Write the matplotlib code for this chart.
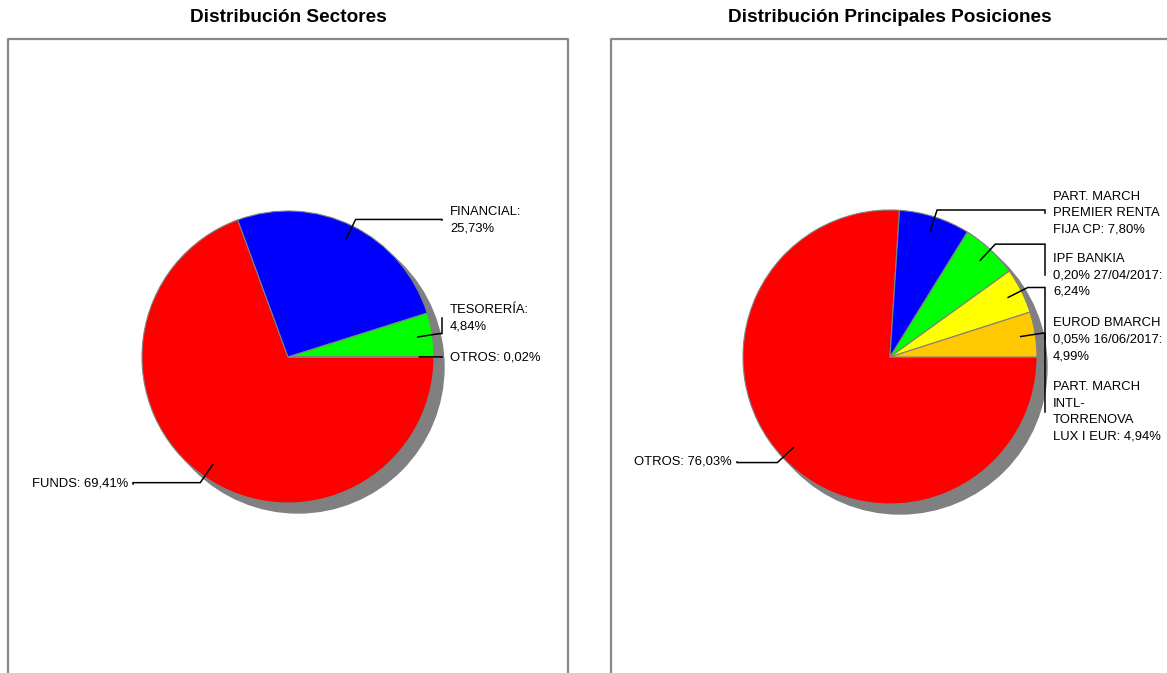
import matplotlib
matplotlib.use("Agg")
import matplotlib.pyplot as plt
import numpy as np
from matplotlib.patches import Circle

plt.rcParams["font.family"] = ["Liberation Sans", "DejaVu Sans"]

W, H = 1167, 673

# sector pie, in drawing order (clockwise from 3 o'clock)
sector_names = ["FUNDS", "FINANCIAL", "TESORERÍA", "OTROS"]
sector_values = [69.41, 25.73, 4.84, 0.02]

# main positions pie
pos_names = [
    "OTROS",
    "PART. MARCH\nPREMIER RENTA\nFIJA CP",
    "IPF BANKIA\n0,20% 27/04/2017",
    "EUROD BMARCH\n0,05% 16/06/2017",
    "PART. MARCH\nINTL-\nTORRENOVA\nLUX I EUR",
]
pos_values = [76.03, 7.80, 6.24, 4.99, 4.94]

palette = ["#ff0000", "#0000ff", "#00ff00", "#ffff00", "#ffc800"]


def Y(y):
    # pixel row (top-down) -> axes coordinate (bottom-up)
    return H - y


def pct(v):
    return f"{v:.2f}%".replace(".", ",")


def draw_pie(ax, cx, cy, r, names, values, seps, label_y, link_right, link_left):
    ax.add_patch(Circle((cx + 10, Y(cy) - 10), r, color="#808080", zorder=1))
    wedges, _ = ax.pie(values, colors=palette[:len(values)], startangle=0,
                       counterclock=False, center=(cx, Y(cy)), radius=r,
                       frame=True,
                       wedgeprops=dict(edgecolor="#808080", linewidth=0.8))
    for w in wedges:
        w.set_zorder(2)
    for w, name, v, sep, ly in zip(wedges, names, values, seps, label_y):
        mid = np.deg2rad((w.theta1 + w.theta2) / 2)
        x0, y0 = cx + 0.9 * r * np.cos(mid), Y(cy) + 0.9 * r * np.sin(mid)
        x1, y1 = cx + 1.05 * r * np.cos(mid), Y(cy) + 1.05 * r * np.sin(mid)
        right = np.cos(mid) >= 0
        xl = link_right if right else link_left
        ax.plot([x0, x1, xl, xl], [y0, y1, y1, Y(ly)], color="black",
                linewidth=1.1, zorder=3, solid_joinstyle="miter")
        txt = f"{name}:{sep}{pct(v)}"
        if right:
            ax.text(xl + 8, Y(ly), txt, ha="left", va="center", fontsize=9.4,
                    linespacing=1.5, zorder=4)
        else:
            ax.text(xl - 5, Y(ly), txt, ha="right", va="center", fontsize=9.4,
                    linespacing=1.5, zorder=4)


fig = plt.figure(figsize=(W / 100, H / 100), dpi=100)
ax = fig.add_axes([0, 0, 1, 1])

# panel frames (open at the bottom / cut by the figure edge)
ax.plot([8, 8, 568, 568], [Y(680), Y(39), Y(39), Y(680)], color="#888888",
        linewidth=1.6, zorder=0)
ax.plot([611, 611, 1180], [Y(680), Y(39), Y(39)], color="#888888",
        linewidth=1.6, zorder=0)

ax.text(288, Y(17), "Distribución Sectores", ha="center", va="center",
        fontsize=13.7, fontweight="bold")
ax.text(890, Y(17), "Distribución Principales Posiciones", ha="center",
        va="center", fontsize=13.7, fontweight="bold")

draw_pie(ax, 288, 357, 146, sector_names, sector_values,
         [" ", "\n", "\n", " "], [484, 220, 318, 357], 442, 133)
draw_pie(ax, 890, 357, 147, pos_names, pos_values,
         [" ", " ", "\n", "\n", " "], [462, 213, 275, 340, 412], 1045, 737)

ax.set_xlim(0, W)
ax.set_ylim(0, H)
ax.set_aspect("equal")
ax.axis("off")

fig.savefig("out.png", dpi=100)
